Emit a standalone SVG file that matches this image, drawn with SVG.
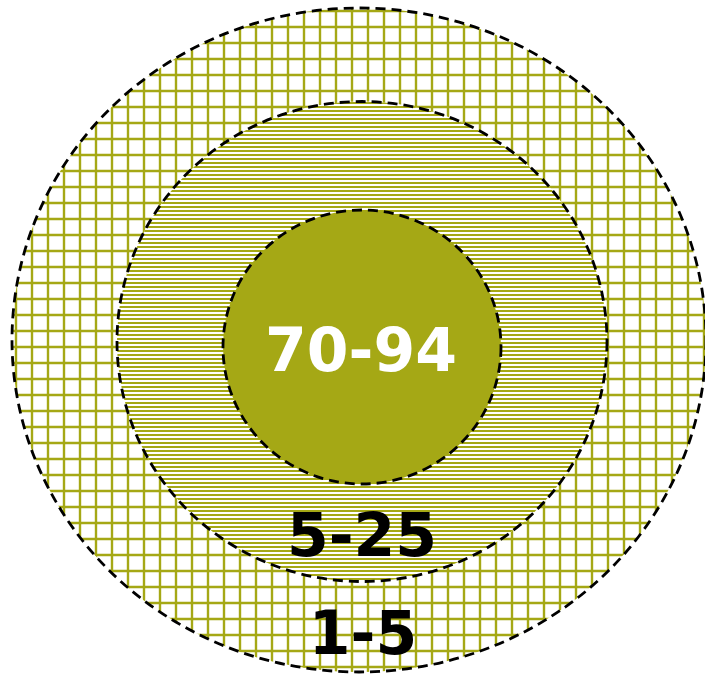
<svg xmlns="http://www.w3.org/2000/svg" width="705" height="675" viewBox="0 0 705 675">
<style>
.ring{fill:none;stroke:#000;stroke-width:2.8;stroke-dasharray:10 6}
.hatch{stroke:#A5A815;fill:none}
.lbl{font-family:"DejaVu Sans","Verdana",sans-serif;font-weight:bold;font-size:60px;text-anchor:middle}
</style>
<defs>
<clipPath id="cOuter"><ellipse cx="359" cy="340" rx="347" ry="332"/></clipPath>
<clipPath id="cMiddle"><ellipse cx="362" cy="341.5" rx="245" ry="240"/></clipPath>
</defs>
<rect width="705" height="675" fill="#fff"/>
<g id="outer">
<g clip-path="url(#cOuter)">
<line class="hatch" x1="352" y1="9.8" x2="352" y2="675" stroke-width="720" stroke-dasharray="2.4 13.6"/>
<line class="hatch" x1="14.8" y1="337" x2="710" y2="337" stroke-width="680" stroke-dasharray="2.4 13.6"/>
</g>
<ellipse class="ring" cx="359" cy="340" rx="347" ry="332"/>
<text class="lbl" x="363" y="654" fill="#000">1-5</text>
</g>
<g id="middle">
<ellipse cx="362" cy="341.5" rx="245" ry="240" fill="#fff"/>
<g clip-path="url(#cMiddle)">
<line class="hatch" x1="362" y1="101.9" x2="362" y2="584" stroke-width="500" stroke-dasharray="2.2 1.8"/>
</g>
<ellipse class="ring" cx="362" cy="341.5" rx="245" ry="240"/>
<text class="lbl" x="362" y="556" fill="#000">5-25</text>
</g>
<g id="inner">
<ellipse cx="362" cy="347" rx="139" ry="137" fill="#A5A815"/>
<ellipse class="ring" cx="362" cy="347" rx="139" ry="137"/>
<text class="lbl" x="361" y="371" fill="#fff">70-94</text>
</g>
<g id="connectors"></g>
</svg>
